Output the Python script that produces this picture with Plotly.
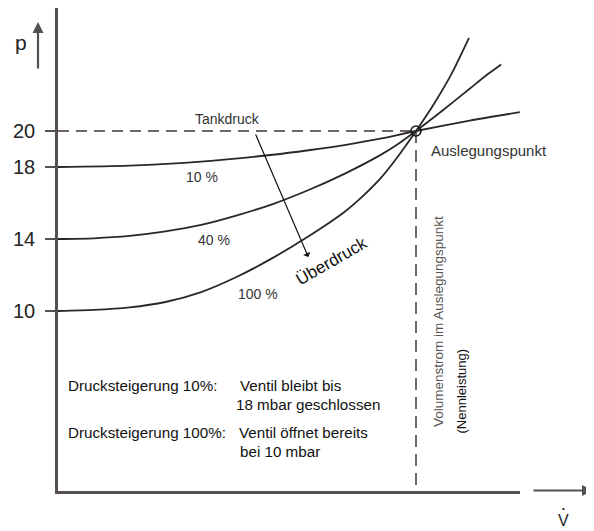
import plotly.graph_objects as go

# ---------------- data ----------------
V_10 = [0, 0.2, 0.4, 0.6, 0.7, 0.8, 0.9, 1.0, 1.15, 1.29]
P_10 = [18.0, 18.08, 18.3, 18.68, 18.93, 19.22, 19.57, 20.0, 20.58, 21.05]

V_40 = [0, 0.1, 0.2, 0.3, 0.4, 0.5, 0.6, 0.7, 0.8, 0.9, 0.95, 1.0, 1.05, 1.1, 1.15, 1.2, 1.238]
P_40 = [14.0, 14.04, 14.17, 14.42, 14.78, 15.31, 15.94, 16.72, 17.62, 18.66, 19.28, 20.0, 20.76, 21.55, 22.35, 23.15, 23.7]

V_100 = [0, 0.1, 0.2, 0.3, 0.4, 0.5, 0.6, 0.7, 0.8, 0.85, 0.9, 0.95, 1.0, 1.05, 1.1, 1.148]
P_100 = [10.0, 10.06, 10.2, 10.5, 11.05, 11.9, 12.95, 14.15, 15.5, 16.35, 17.35, 18.6, 20.0, 21.5, 23.2, 25.17]

DESIGN_V = [1.0]
DESIGN_P = [20.0]

Y_TICKS = [10, 14, 18, 20]
Y_TICK_LABELS = ["10", "14", "18", "20"]
CURVE_LABELS = ["10 %", "40 %", "100 %"]

# ---------------- layout (page pixels; page body has an 8px margin) ----------------
BODY = 8
W, H = 594 - BODY, 531 - BODY
PLOT_L, PLOT_R, PLOT_T, PLOT_B = 58, 520, 8, 491        # plot area in page pixels
ML, MR, MT, MB = PLOT_L - BODY, (W + BODY) - PLOT_R, PLOT_T - BODY, (H + BODY) - PLOT_B
PX_PER_V = 358.0
PX_PER_P = 18.0
X_MAX = (PLOT_R - PLOT_L) / PX_PER_V
Y_MAX = (PLOT_B - PLOT_T) / PX_PER_P


def dx(x):
    return (x - PLOT_L) / PX_PER_V


def dy(y):
    return (PLOT_B - y) / PX_PER_P


def xp(x):
    return (x - PLOT_L) / (PLOT_R - PLOT_L)


def yp(y):
    return (PLOT_B - y) / (PLOT_B - PLOT_T)


FONT = "Liberation Sans, Arial, Helvetica, sans-serif"
CURVE_COLOR = "#2b2727"
DASH_COLOR = "#6e6666"
AXIS_COLOR = "#565050"

fig = go.Figure()

# dashed guide lines through the design point
fig.add_trace(go.Scatter(x=[0, DESIGN_V[0]], y=[DESIGN_P[0], DESIGN_P[0]], mode="lines",
                         line=dict(color=DASH_COLOR, width=2, dash="11px,7px"),
                         hoverinfo="skip", showlegend=False))
fig.add_trace(go.Scatter(x=[DESIGN_V[0], DESIGN_V[0]], y=[DESIGN_P[0], 0], mode="lines",
                         line=dict(color=DASH_COLOR, width=2, dash="12px,7px"),
                         hoverinfo="skip", showlegend=False))

for vx, pv, name in [(V_10, P_10, CURVE_LABELS[0]),
                     (V_40, P_40, CURVE_LABELS[1]),
                     (V_100, P_100, CURVE_LABELS[2])]:
    fig.add_trace(go.Scatter(x=vx, y=pv, mode="lines", name=name,
                             line=dict(color=CURVE_COLOR, width=1.8, shape="spline", smoothing=0.7),
                             showlegend=False))

fig.add_trace(go.Scatter(x=DESIGN_V, y=DESIGN_P, mode="markers",
                         marker=dict(symbol="circle-open", size=10, color="#1a1a1a",
                                     line=dict(width=1.6)),
                         cliponaxis=False, showlegend=False))

ann = []


def label(text, x, y, size=14, color="#333333", xanchor="center", yanchor="middle", angle=0):
    ann.append(dict(text=text, x=xp(x), y=yp(y), xref="paper", yref="paper", showarrow=False,
                    xanchor=xanchor, yanchor=yanchor, textangle=angle,
                    font=dict(family=FONT, size=size, color=color)))


label("Tankdruck", 227, 119, size=14)
label(CURVE_LABELS[0], 201.5, 177, size=14)
label(CURVE_LABELS[1], 213.5, 239.5, size=14)
label(CURVE_LABELS[2], 257.5, 293.5, size=14)
label("Auslegungspunkt", 429, 150, size=15, xanchor="left")
label("Überdruck", 331, 261, size=17, color="#111111", angle=-30)
label("Volumenstrom im Auslegungspunkt", 438, 322, size=13.5, color="#555555", angle=-90)
label("(Nennleistung)", 461, 391.5, size=13, color="#111111", angle=-90)

label("Drucksteigerung 10%:", 66, 385, size=15.2, color="#111111", xanchor="left")
label("Ventil bleibt bis", 238, 385, size=15.2, color="#111111", xanchor="left")
label("18 mbar geschlossen", 234, 404, size=15.2, color="#111111", xanchor="left")
label("Drucksteigerung 100%:", 66, 432, size=15.2, color="#111111", xanchor="left")
label("Ventil öffnet bereits", 237, 432, size=15.2, color="#111111", xanchor="left")
label("bei 10 mbar", 238, 451, size=15.2, color="#111111", xanchor="left")

label("p", 21, 43, size=21, color="#222222")
label("V", 563, 520.5, size=16, color="#222222")
label("•", 563, 508, size=8, color="#222222")

# Tankdruck -> Überdruck arrow
ann.append(dict(x=dx(308.3), y=dy(257), ax=dx(255), ay=dy(133), xref="x", yref="y",
                axref="x", ayref="y", text="", showarrow=True, arrowhead=1,
                arrowsize=1.1, arrowwidth=1.2, arrowcolor="#111111"))
# axis arrows
ann.append(dict(x=xp(38), y=yp(22), ax=0, ay=48, xref="paper", yref="paper", text="",
                showarrow=True, arrowhead=2, arrowsize=1.0, arrowwidth=2.2, arrowcolor="#555050"))
ann.append(dict(x=xp(593), y=yp(490.5), ax=-61, ay=0, xref="paper", yref="paper", text="",
                showarrow=True, arrowhead=2, arrowsize=1.0, arrowwidth=2.2, arrowcolor="#555050"))

fig.update_layout(
    width=W, height=H,
    margin=dict(l=ML, r=MR, t=MT, b=MB, pad=0),
    paper_bgcolor="white", plot_bgcolor="white",
    showlegend=False,
    annotations=ann,
    xaxis=dict(range=[0, X_MAX], showgrid=False, zeroline=False, showticklabels=False,
               ticks="", showline=True, linecolor=AXIS_COLOR, linewidth=2.5, fixedrange=True),
    yaxis=dict(range=[0, Y_MAX], showgrid=False, zeroline=False,
               tickmode="array", tickvals=Y_TICKS, ticktext=Y_TICK_LABELS,
               ticks="outside", ticklen=10, tickwidth=1.5, tickcolor=AXIS_COLOR,
               ticklabelstandoff=6,
               tickfont=dict(family=FONT, size=20, color="#222222"),
               showline=True, linecolor=AXIS_COLOR, linewidth=2.5, fixedrange=True),
)

fig.write_html("out.html")
